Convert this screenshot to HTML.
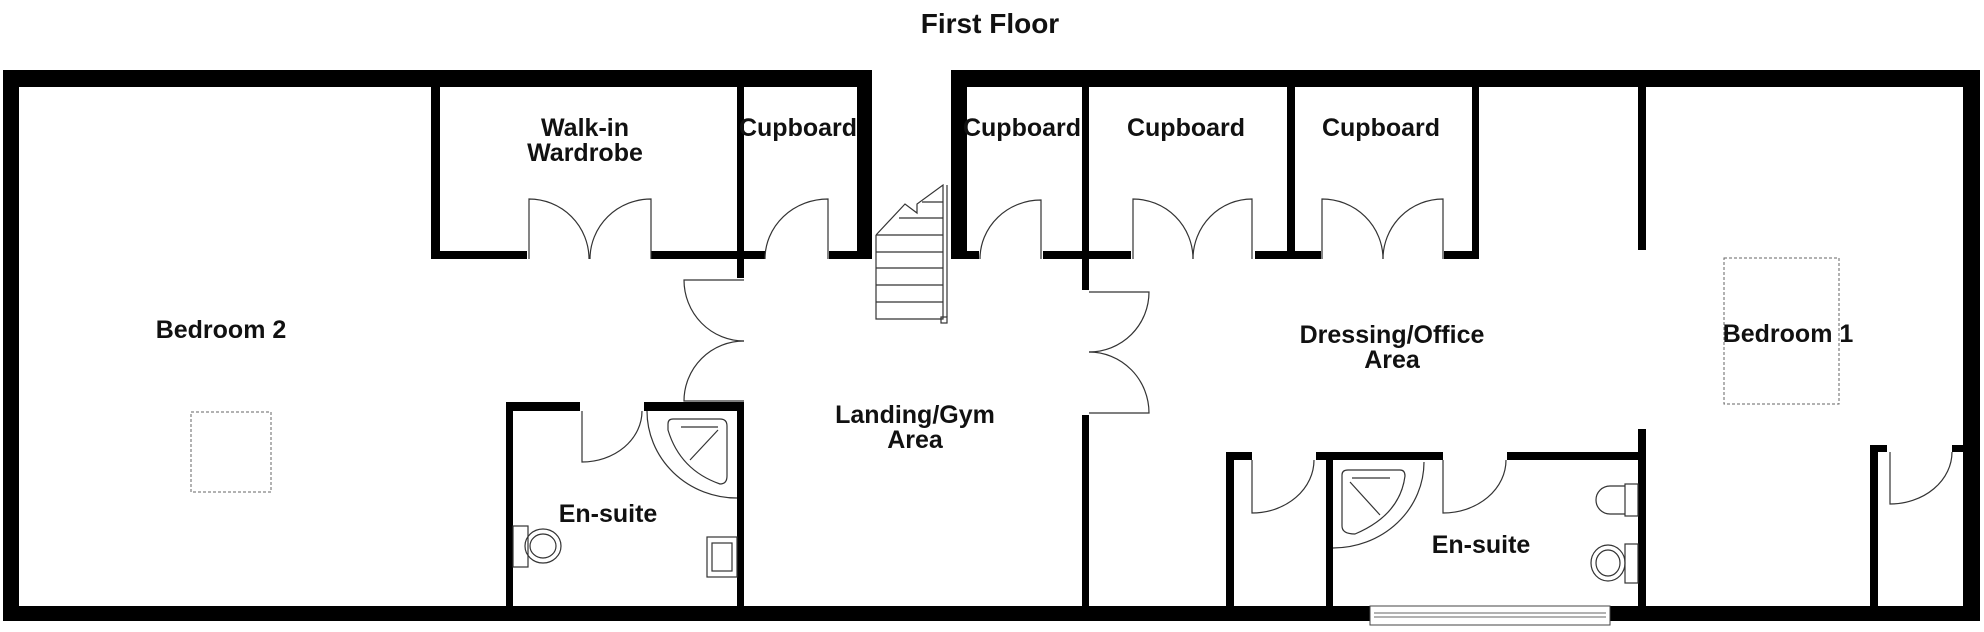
<!DOCTYPE html>
<html><head><meta charset="utf-8"><style>
html,body{margin:0;padding:0;background:#fff;}
svg{display:block;}
text{font-family:"Liberation Sans",Arial,sans-serif;font-weight:bold;fill:#111;text-anchor:middle;}
</style></head><body>
<svg width="1984" height="632" viewBox="0 0 1984 632" xmlns="http://www.w3.org/2000/svg">
<text x="990" y="33" font-size="28">First Floor</text>
<g fill="#000">
<rect x="3" y="70" width="869" height="17"/>
<rect x="951" y="70" width="1029" height="17"/>
<rect x="3" y="70" width="16" height="551"/>
<rect x="1963" y="70" width="17" height="551"/>
<rect x="3" y="606" width="1977" height="15"/>
<rect x="431" y="87" width="9" height="172"/>
<rect x="431" y="251" width="96" height="8"/>
<rect x="651" y="251" width="114" height="8"/>
<rect x="829" y="251" width="43" height="8"/>
<rect x="737" y="87" width="7" height="191"/>
<rect x="857" y="87" width="15" height="172"/>
<rect x="951" y="87" width="16" height="172"/>
<rect x="951" y="251" width="28" height="8"/>
<rect x="1043" y="251" width="88" height="8"/>
<rect x="1255" y="251" width="66" height="8"/>
<rect x="1444" y="251" width="35" height="8"/>
<rect x="1082" y="87" width="7" height="203"/>
<rect x="1082" y="415" width="7" height="191"/>
<rect x="1287" y="87" width="8" height="172"/>
<rect x="1472" y="87" width="7" height="172"/>
<rect x="1638" y="87" width="8" height="163"/>
<rect x="1638" y="429" width="8" height="177"/>
<rect x="506" y="402" width="7" height="204"/>
<rect x="506" y="402" width="74" height="9"/>
<rect x="644" y="402" width="100" height="9"/>
<rect x="737" y="402" width="7" height="204"/>
<rect x="1226" y="452" width="26" height="8"/>
<rect x="1226" y="452" width="8" height="154"/>
<rect x="1316" y="452" width="127" height="8"/>
<rect x="1507" y="452" width="131" height="8"/>
<rect x="1326" y="452" width="7" height="154"/>
<rect x="1870" y="445" width="17" height="7"/>
<rect x="1870" y="445" width="8" height="161"/>
<rect x="1952" y="445" width="11" height="7"/>
</g>
<rect x="1370" y="606" width="240" height="19" fill="#fff" stroke="#444" stroke-width="1"/>
<line x1="1374" y1="613" x2="1606" y2="613" stroke="#666" stroke-width="1"/>
<line x1="1374" y1="617" x2="1606" y2="617" stroke="#666" stroke-width="1"/>
<g fill="none" stroke="#333" stroke-width="1.2">
<path d="M529 259 V199 A60 60 0 0 1 589 259"/>
<path d="M651 259 V199 A61 60 0 0 0 590 259"/>
<path d="M828 259 V199 A63 60 0 0 0 765 259"/>
<path d="M1041 259 V200 A61 59 0 0 0 980 259"/>
<path d="M1133 259 V199 A60 60 0 0 1 1193 259"/>
<path d="M1252 259 V199 A59 60 0 0 0 1193 259"/>
<path d="M1322 259 V199 A61 60 0 0 1 1383 259"/>
<path d="M1443 259 V199 A60 60 0 0 0 1383 259"/>
<path d="M744 280 H684 A60 61 0 0 0 744 341"/>
<path d="M744 401 H684 A60 60 0 0 1 744 341"/>
<path d="M1089 292 H1149 A60 60 0 0 1 1089 352"/>
<path d="M1089 413 H1149 A60 61 0 0 0 1089 352"/>
<path d="M582 411 V462 A60 51 0 0 0 642 411"/>
<path d="M1252 460 V513 A62 53 0 0 0 1314 460"/>
<path d="M1443 460 V513 A63 53 0 0 0 1506 460"/>
<path d="M1890 452 V504 A62 52 0 0 0 1952 452"/>
<path d="M876 235 V319 H943 V185 L917 204 V213 L905 204 L876 235"/>
<line x1="947" y1="185" x2="947" y2="317"/>
<line x1="876" y1="235" x2="943" y2="235"/>
<line x1="876" y1="252" x2="943" y2="252"/>
<line x1="876" y1="268" x2="943" y2="268"/>
<line x1="876" y1="285" x2="943" y2="285"/>
<line x1="876" y1="302" x2="943" y2="302"/>
<line x1="899" y1="218" x2="943" y2="218"/>
<line x1="922" y1="202" x2="943" y2="202"/>
<rect x="941" y="317" width="6" height="6"/>
<path d="M647 411 A90 87 0 0 0 737 498"/>
<path d="M668 424 Q668 419 673 419 H720 Q727 419 727 426 V476 Q727 484 720 484 Q680 470 668 430 Z"/>
<line x1="681" y1="427" x2="718" y2="427"/>
<line x1="690" y1="460" x2="718" y2="430"/>
<rect x="513" y="526" width="15" height="41"/>
<ellipse cx="543" cy="546" rx="18" ry="17"/>
<ellipse cx="543" cy="546" rx="13" ry="12"/>
<rect x="707" y="537" width="30" height="40"/>
<rect x="712" y="543" width="20" height="28"/>
<path d="M1424 462 A91 86 0 0 1 1333 548"/>
<path d="M1342 475 Q1342 470 1348 470 H1400 Q1405 470 1405 476 Q1400 515 1355 534 Q1342 534 1342 526 Z"/>
<line x1="1352" y1="478" x2="1390" y2="478"/>
<line x1="1350" y1="482" x2="1380" y2="515"/>
<rect x="1625" y="484" width="13" height="32"/>
<path d="M1625 486 H1610 A14 14 0 0 0 1610 514 H1625"/>
<rect x="1625" y="544" width="13" height="39"/>
<ellipse cx="1608" cy="563" rx="17" ry="18"/>
<ellipse cx="1608" cy="563" rx="12" ry="13"/>
</g>
<rect x="191" y="412" width="80" height="80" fill="none" stroke="#666" stroke-width="1" stroke-dasharray="3,2"/>
<rect x="1724" y="258" width="115" height="146" fill="none" stroke="#666" stroke-width="1" stroke-dasharray="3,2"/>
<g font-size="25">
<text x="221" y="338">Bedroom 2</text>
<text x="585" y="136">Walk-in</text>
<text x="585" y="161">Wardrobe</text>
<text x="798" y="136">Cupboard</text>
<text x="1022" y="136">Cupboard</text>
<text x="1186" y="136">Cupboard</text>
<text x="1381" y="136">Cupboard</text>
<text x="915" y="423">Landing/Gym</text>
<text x="915" y="448">Area</text>
<text x="608" y="522">En-suite</text>
<text x="1392" y="343">Dressing/Office</text>
<text x="1392" y="368">Area</text>
<text x="1788" y="342">Bedroom 1</text>
<text x="1481" y="553">En-suite</text>
</g>
</svg>
</body></html>
